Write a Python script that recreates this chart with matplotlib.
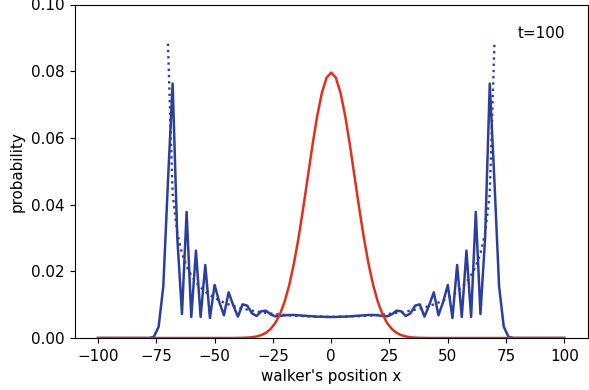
import matplotlib
matplotlib.use("Agg")
import matplotlib.pyplot as plt

plt.rcParams["font.size"] = 10.9
plt.rcParams["xtick.major.size"] = 3.8
plt.rcParams["ytick.major.size"] = 3.8
plt.rcParams["xtick.major.pad"] = 3.8
plt.rcParams["ytick.major.pad"] = 3.8

# positions (even sites)
positions = list(range(-100, 101, 2))

# quantum walk probability (Hadamard walk, t=100)
quantum = [
    0, 0, 0, 0, 0, 0, 0, 0, 0, 0, 0, 0,               # -100 .. -78
    0.0004, 0.0034, 0.0155, 0.0470, 0.0763, 0.0300,   # -76 .. -66
    0.0072, 0.0378, 0.0063, 0.0262, 0.0063, 0.0219,   # -64 .. -54
    0.0060, 0.0159, 0.0108, 0.0068, 0.0137, 0.0098,   # -52 .. -42
    0.0064, 0.0101, 0.0097, 0.0074, 0.0066, 0.0080,   # -40 .. -30
    0.0082, 0.0071, 0.0065, 0.0066, 0.0068, 0.0069,   # -28 .. -18
    0.0069, 0.0068, 0.0067, 0.0066, 0.0065, 0.0064,   # -16 .. -6
    0.0064, 0.0063,                                   # -4, -2
    0.0063,                                           # 0
    0.0063, 0.0064,                                   # 2, 4
    0.0064, 0.0065, 0.0066, 0.0067, 0.0068, 0.0069,   # 6 .. 16
    0.0069, 0.0068, 0.0066, 0.0065, 0.0071, 0.0082,   # 18 .. 28
    0.0080, 0.0066, 0.0074, 0.0097, 0.0101, 0.0064,   # 30 .. 40
    0.0098, 0.0137, 0.0068, 0.0108, 0.0159, 0.0060,   # 42 .. 52
    0.0219, 0.0063, 0.0262, 0.0063, 0.0378, 0.0072,   # 54 .. 64
    0.0300, 0.0763, 0.0470, 0.0155, 0.0034, 0.0004,   # 66 .. 76
    0, 0, 0, 0, 0, 0, 0, 0, 0, 0, 0, 0,               # 78 .. 100
]

# classical random walk probability (even sites)
classical = [
    0, 0, 0, 0, 0, 0, 0, 0, 0, 0,                     # -100 .. -82
    0, 0, 0, 0, 0, 0, 0, 0, 0, 0,                     # -80 .. -62
    0, 0, 0, 0, 0, 0, 0, 0, 0, 0,                     # -60 .. -42
    0.0000232, 0.0000523, 0.000113, 0.000232, 0.000458,   # -40 .. -32
    0.000864, 0.001560, 0.002698, 0.004473, 0.007111,     # -30 .. -22
    0.010844, 0.015869, 0.022292, 0.030069, 0.038953,     # -20 .. -12
    0.048474, 0.057958, 0.066591, 0.073527, 0.078029,     # -10 .. -2
    0.079589,                                             # 0
    0.078029, 0.073527, 0.066591, 0.057958, 0.048474,     # 2 .. 10
    0.038953, 0.030069, 0.022292, 0.015869, 0.010844,     # 12 .. 20
    0.007111, 0.004473, 0.002698, 0.001560, 0.000864,     # 22 .. 30
    0.000458, 0.000232, 0.000113, 0.0000523, 0.0000232,   # 32 .. 40
    0, 0, 0, 0, 0, 0, 0, 0, 0, 0,                     # 42 .. 60
    0, 0, 0, 0, 0, 0, 0, 0, 0, 0,                     # 62 .. 80
    0, 0, 0, 0, 0, 0, 0, 0, 0, 0,                     # 82 .. 100
]

# asymptotic (averaged) quantum density
approx_positions = list(range(-70, 71, 2))
approx_half = [
    0.088268, 0.043182, 0.031429, 0.025359, 0.021507, 0.018798,   # 70 .. 60
    0.016771, 0.015190, 0.013920, 0.012876, 0.012004, 0.011265,   # 58 .. 48
    0.010632, 0.010085, 0.009608, 0.009191, 0.008823, 0.008498,   # 46 .. 36
    0.008210, 0.007953, 0.007726, 0.007523, 0.007342, 0.007182,   # 34 .. 24
    0.007039, 0.006914, 0.006803, 0.006707, 0.006625, 0.006554,   # 22 .. 12
    0.006496, 0.006449, 0.006412, 0.006387, 0.006371,             # 10 .. 2
]
approx_center = 0.006366
approx = approx_half + [approx_center] + approx_half[::-1]

blue = "#2c3f9e"
red = "#e0301e"

fig = plt.figure(figsize=(5.89, 3.90), dpi=100)
ax = fig.add_axes([74.7 / 589, 52 / 390, (587.7 - 74.7) / 589, (338 - 4.5) / 390])

ax.plot(positions, quantum, color=blue, lw=1.8)
ax.plot(approx_positions, approx, color=blue, lw=1.7, ls=":")
ax.plot(positions, classical, color=red, lw=1.8)

ax.set_xlim(-110, 110)
ax.set_ylim(0, 0.10)
ax.set_xticks([-100, -75, -50, -25, 0, 25, 50, 75, 100])
ax.set_yticks([0.0, 0.02, 0.04, 0.06, 0.08, 0.10])
ax.set_yticklabels(["0.00", "0.02", "0.04", "0.06", "0.08", "0.10"])
ax.set_xlabel("walker's position x")
ax.set_ylabel("probability")
ax.text(80, 0.09, "t=100")

fig.savefig("out.png", dpi=100)
